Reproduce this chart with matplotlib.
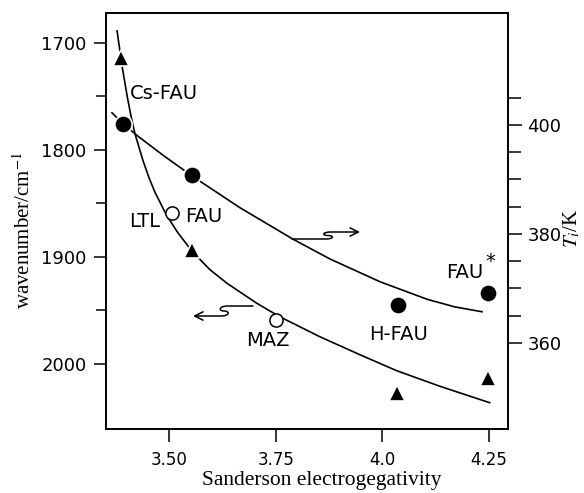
import matplotlib
matplotlib.use("Agg")
import matplotlib.pyplot as plt
from matplotlib.path import Path
from matplotlib.patches import FancyArrowPatch

plt.rcParams["mathtext.fontset"] = "stix"

# electronegativity of the zeolites
x_tri = [3.388, 3.554, 4.034, 4.248]
wavenumber_tri = [1714, 1894, 2027, 2013]

x_open = [3.506, 3.751]
wavenumber_open = [1859, 1959]

x_dot = [3.391, 3.554, 4.036, 4.247]
ti_dot = [400.2, 390.8, 367.0, 369.1]

# hand drawn fit curves
curve_w_x = [3.378, 3.390, 3.402, 3.411, 3.420, 3.439, 3.453, 3.467, 3.493,
             3.519, 3.554, 3.596, 3.636, 3.706, 3.760, 3.854, 3.948, 4.034,
             4.135, 4.252]
curve_w_y = [1688.8, 1722.4, 1750.5, 1769.2, 1785.0, 1810.3, 1826.2, 1839.7,
             1860.3, 1876.6, 1894.9, 1912.1, 1924.8, 1943.5, 1956.1, 1974.8,
             1991.6, 2006.5, 2021.0, 2036.4]

curve_t_x = [3.366, 3.390, 3.427, 3.486, 3.554, 3.666, 3.791, 3.877, 3.995,
             4.105, 4.170, 4.234]
curve_t_y = [402.2, 400.3, 397.9, 394.4, 390.6, 384.8, 379.0, 375.4, 371.2,
             368.0, 366.6, 365.7]

xticks = [3.50, 3.75, 4.0, 4.25]
xticklabels = ["3.50", "3.75", "4.0", "4.25"]

W, H = 584, 493
fig = plt.figure(figsize=(W / 100, H / 100), dpi=100)
ax = fig.add_axes([106 / W, 1 - 429 / H, 402 / W, 416 / H])
ax2 = ax.twinx()

sans = "DejaVu Sans"
serif = "Liberation Serif"

# left axis (wavenumber, inverted)
ax.set_xlim(3.352, 4.295)
ax.set_ylim(2061, 1672)
ax.set_yticks([1700, 1800, 1900, 2000])
ax.set_yticks([1750, 1850, 1950], minor=True)
ax.set_xticks(xticks)
ax.set_xticklabels(xticklabels)
ax.tick_params(axis="y", which="major", direction="out", length=9, width=1.1,
               pad=5, labelsize=13)
ax.tick_params(axis="y", which="minor", direction="out", length=7, width=1.1)
ax.tick_params(axis="x", direction="out", length=9, width=1.1, pad=7,
               labelsize=12)
for lab in ax.get_xticklabels() + ax.get_yticklabels():
    lab.set_family(sans)

# right axis (T_i)
ax2.set_ylim(344.2, 420.5)
ax2.set_yticks([360, 380, 400])
ax2.set_yticks([365, 370, 375, 385, 390, 395, 405], minor=True)
ax2.tick_params(axis="y", which="major", direction="out", length=10, width=1.1,
                pad=4, labelsize=13)
ax2.tick_params(axis="y", which="minor", direction="out", length=9, width=1.1)
for lab in ax2.get_yticklabels():
    lab.set_family(sans)

for a in (ax, ax2):
    for sp in a.spines.values():
        sp.set_linewidth(1.2)

# curves
ax.plot(curve_w_x, curve_w_y, color="black", lw=1.2, zorder=2,
        solid_joinstyle="round")
ax2.plot(curve_t_x, curve_t_y, color="black", lw=1.2, zorder=2,
         solid_joinstyle="round")

# points
ax.plot(x_tri, wavenumber_tri, ls="none", marker="^", ms=11.5, color="black",
        mec="white", mew=1.2, zorder=3)
ax.plot(x_open, wavenumber_open, ls="none", marker="o", ms=9.5, mfc="white",
        mec="black", mew=1.1, zorder=3)
ax2.plot(x_dot, ti_dot, ls="none", marker="o", ms=12.5, color="black",
         mec="white", mew=1.2, zorder=3)

# point labels
lab_kw = dict(family=sans, fontsize=14, color="black")
ax.text(3.4086, 1747, "Cs-FAU", ha="left", va="center", **lab_kw)
ax.text(3.479, 1867, "LTL", ha="right", va="center", **lab_kw)
ax.text(3.5375, 1862, "FAU", ha="left", va="center", **lab_kw)
ax.text(3.732, 1978, "MAZ", ha="center", va="center", **lab_kw)
ax.text(4.038, 1973, "H-FAU", ha="center", va="center", **lab_kw)
ax.text(4.150, 1915, "FAU", ha="left", va="center", **lab_kw)
ax.text(4.241, 1904, "*", ha="left", va="center", family=sans, fontsize=14)


# squiggle arrows that point to the axis of each curve (reference pixels)
def px(p):
    return ((p[0] - 106) / 402, (429 - p[1]) / 416)


left_arrow = [(253, 306), (228, 306), (219, 306), (218, 311), (224, 311),
              (230, 311), (230, 316), (221, 316), (193, 316)]
arrow_codes = [Path.MOVETO, Path.LINETO, Path.CURVE4, Path.CURVE4, Path.CURVE4,
               Path.CURVE4, Path.CURVE4, Path.CURVE4, Path.LINETO]
right_arrow = [(292, 239), (326, 239), (334, 239), (334, 235.5), (328, 235.5),
               (322, 235.5), (322, 232), (331, 232), (360, 232)]

for pts in (left_arrow, right_arrow):
    path = Path([px(p) for p in pts], arrow_codes)
    arr = FancyArrowPatch(path=path, arrowstyle="->,head_length=0.5,head_width=0.25",
                          mutation_scale=12, lw=1.1, color="black",
                          transform=ax.transAxes, zorder=4)
    ax.add_patch(arr)

# axis labels
fig.text(321.5 / W, 3 / H, "Sanderson electrogegativity", ha="center",
         va="bottom", family=serif, fontsize=15.5)
fig.text(24 / W, 1 - 230 / H, "wavenumber/cm$^{-1}$", ha="center", va="center",
         rotation=90, family=serif, fontsize=15)
fig.text(572 / W, 1 - 228 / H, "$T_i$/K", ha="center", va="center",
         rotation=90, family=serif, fontsize=15)

fig.savefig("out.png", dpi=100)
